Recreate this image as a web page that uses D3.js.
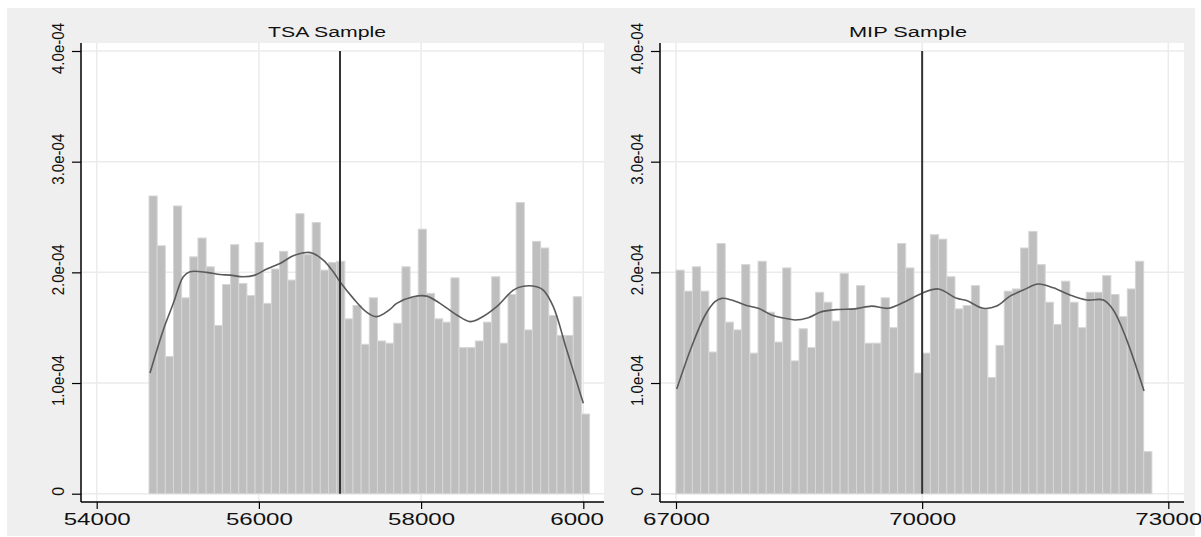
<!DOCTYPE html>
<html>
<head>
<meta charset="utf-8">
<script src="https://cdn.jsdelivr.net/npm/d3@7/dist/d3.min.js"></script>
<style>
body { margin: 0; background: #ffffff; }
text { font-family: "Liberation Sans", Arial, sans-serif; fill: #111; }
</style>
</head>
<body>
<div id="chart"></div>
<script>
// all densities are in units of 1e-04

// TSA sample histogram
var tsaBinStart = 54645;
var tsaBinWidth = 100.6;
var tsaDensity = [2.69, 2.24, 1.24, 2.60, 1.77, 2.14, 2.31, 2.05, 1.52, 1.89,
	2.25, 1.90, 1.79, 2.27, 1.72, 2.03, 2.19, 1.93, 2.53, 2.16,
	2.45, 2.02, 2.09, 2.10, 1.58, 1.70, 1.35, 1.77, 1.38, 1.36,
	1.54, 2.05, 1.78, 2.39, 1.81, 1.58, 1.55, 1.95, 1.32, 1.32,
	1.38, 1.55, 1.96, 1.36, 1.80, 2.63, 1.48, 2.28, 2.22, 1.61,
	1.43, 1.43, 1.78, 0.72];
// TSA kernel density
var tsaCurveX = [54657, 54821, 54945, 55068, 55150, 55356, 55520, 55644, 55808, 55952,
	56096, 56260, 56424, 56589, 56671, 56794, 56917, 57000, 57164, 57329,
	57453, 57616, 57699, 57904, 58069, 58233, 58439, 58603, 58726, 58932,
	59137, 59260, 59425, 59507, 59630, 59795, 60000];
var tsaCurveY = [1.09, 1.48, 1.72, 1.96, 2.005, 2.00, 1.98, 1.975, 1.96, 1.975,
	2.03, 2.08, 2.15, 2.18, 2.17, 2.11, 2.005, 1.915, 1.765, 1.64,
	1.60, 1.665, 1.72, 1.78, 1.785, 1.72, 1.615, 1.555, 1.585, 1.69,
	1.84, 1.875, 1.87, 1.84, 1.69, 1.30, 0.817];
var tsaCutoff = 57000;
var tsaTicks = [54000, 56000, 58000, 60000];

// MIP sample histogram
var mipBinStart = 67000;
var mipBinWidth = 100;
var mipDensity = [2.02, 1.83, 2.05, 1.83, 1.28, 2.26, 1.55, 1.48, 2.07, 1.27,
	2.10, 1.64, 1.37, 2.04, 1.20, 1.49, 1.32, 1.82, 1.73, 1.56,
	1.99, 1.67, 1.88, 1.36, 1.36, 1.77, 1.50, 2.26, 2.04, 1.09,
	1.27, 2.34, 2.30, 1.96, 1.67, 1.70, 1.88, 1.67, 1.05, 1.34,
	1.83, 1.85, 2.22, 2.37, 2.07, 1.73, 1.53, 1.92, 1.73, 1.50,
	1.82, 1.82, 1.97, 1.80, 1.60, 1.85, 2.10, 0.38];
// MIP kernel density
var mipCurveX = [67009, 67191, 67353, 67475, 67557, 67679, 67841, 68003, 68166, 68328,
	68450, 68612, 68776, 68978, 69182, 69385, 69587, 69791, 69995, 70197,
	70421, 70543, 70745, 70909, 71071, 71233, 71416, 71599, 71802, 72005,
	72208, 72330, 72493, 72704];
var mipCurveY = [0.945, 1.33, 1.61, 1.735, 1.765, 1.75, 1.705, 1.675, 1.615, 1.585,
	1.57, 1.59, 1.645, 1.665, 1.67, 1.695, 1.675, 1.735, 1.81, 1.85,
	1.765, 1.745, 1.675, 1.695, 1.785, 1.84, 1.895, 1.86, 1.795, 1.75,
	1.75, 1.66, 1.39, 0.928];
var mipCutoff = 70000;
var mipTicks = [67000, 70000, 73000];

var yTicks = [0, 1, 2, 3, 4];
var titles = ["TSA Sample", "MIP Sample"];

var W = 1201, H = 537;
var plotTop = 43, plotBottom = 502;

var svg = d3.select("#chart").append("svg")
	.attr("width", W)
	.attr("height", H);

// the y scale is shared by both panels
var y = d3.scaleLinear()
	.domain([0, 4])
	.range([493.7, 51]);

function fmtY(d) { return d === 0 ? "0" : d.toFixed(1) + "e-04"; }

var panels = [
	{ title: titles[0], bg: [7, 604], plot: [81, 604], dom: [54000, 60000], rng: [96.7, 583.3],
	  start: tsaBinStart, width: tsaBinWidth, dens: tsaDensity, cx: tsaCurveX, cy: tsaCurveY,
	  cut: tsaCutoff, ticks: tsaTicks, titleX: 327 },
	{ title: titles[1], bg: [604, 1195], plot: [660, 1184], dom: [67000, 73000], rng: [676, 1168.3],
	  start: mipBinStart, width: mipBinWidth, dens: mipDensity, cx: mipCurveX, cy: mipCurveY,
	  cut: mipCutoff, ticks: mipTicks, titleX: 908 }
];

panels.forEach(function (p) {
	var x = d3.scaleLinear().domain(p.dom).range(p.rng);
	var g = svg.append("g");

	// outer grey background and white plot region
	g.append("rect")
		.attr("x", p.bg[0]).attr("y", 8)
		.attr("width", p.bg[1] - p.bg[0]).attr("height", 528)
		.attr("fill", "#efefef");
	g.append("rect")
		.attr("x", p.plot[0]).attr("y", plotTop)
		.attr("width", p.plot[1] - p.plot[0]).attr("height", plotBottom - plotTop)
		.attr("fill", "#ffffff");

	// grid
	g.selectAll(".vgrid").data(p.ticks).enter().append("line")
		.attr("x1", x).attr("x2", x)
		.attr("y1", plotTop).attr("y2", plotBottom)
		.attr("stroke", "#ebebeb").attr("stroke-width", 1.5);
	g.selectAll(".hgrid").data(yTicks).enter().append("line")
		.attr("x1", p.plot[0]).attr("x2", p.plot[1])
		.attr("y1", y).attr("y2", y)
		.attr("stroke", "#ebebeb").attr("stroke-width", 1.5);

	// histogram bars
	g.selectAll(".bar").data(p.dens).enter().append("rect")
		.attr("x", function (d, i) { return x(p.start + i * p.width); })
		.attr("width", function (d, i) { return x(p.start + (i + 1) * p.width) - x(p.start + i * p.width); })
		.attr("y", function (d) { return y(d); })
		.attr("height", function (d) { return y(0) - y(d); })
		.attr("fill", "#bebebe")
		.attr("stroke", "#d6d6d6")
		.attr("stroke-width", 1);

	// kernel density
	var line = d3.line()
		.x(function (d) { return x(d[0]); })
		.y(function (d) { return y(d[1]); })
		.curve(d3.curveCatmullRom);
	g.append("path")
		.datum(d3.zip(p.cx, p.cy))
		.attr("d", line)
		.attr("fill", "none")
		.attr("stroke", "#5a5a5a")
		.attr("stroke-width", 1.6);

	// cutoff line
	g.append("line")
		.attr("x1", x(p.cut)).attr("x2", x(p.cut))
		.attr("y1", y(4)).attr("y2", y(0))
		.attr("stroke", "#333333").attr("stroke-width", 2);

	// x axis
	var xa = g.append("g")
		.attr("transform", "translate(0," + plotBottom + ")")
		.call(d3.axisBottom(x).tickValues(p.ticks).tickSize(7).tickFormat(d3.format("d")));
	xa.select(".domain").remove();
	xa.selectAll("line").attr("stroke", "#000").attr("stroke-width", 1.2);
	xa.selectAll("text")
		.attr("y", 23).attr("dy", null)
		.attr("font-size", 16.5)
		.attr("textLength", 67)
		.attr("lengthAdjust", "spacingAndGlyphs")
		.style("fill", "#111");
	g.append("line")
		.attr("x1", p.plot[0]).attr("x2", p.plot[1])
		.attr("y1", plotBottom).attr("y2", plotBottom)
		.attr("stroke", "#000").attr("stroke-width", 1.5);

	// y axis, labels rotated like Stata's default
	var ya = g.append("g")
		.attr("transform", "translate(" + p.plot[0] + ",0)")
		.call(d3.axisLeft(y).tickValues(yTicks).tickSize(9).tickFormat(fmtY));
	ya.select(".domain").remove();
	ya.selectAll("line").attr("stroke", "#000").attr("stroke-width", 1.2);
	ya.selectAll("text")
		.attr("x", null).attr("dy", null)
		.attr("text-anchor", "middle")
		.attr("transform", "translate(-17.5,-3) rotate(-90)")
		.attr("font-size", 16)
		.attr("textLength", function (d) { return d === 0 ? null : 51; })
		.attr("lengthAdjust", "spacingAndGlyphs")
		.style("fill", "#111");
	g.append("line")
		.attr("x1", p.plot[0]).attr("x2", p.plot[0])
		.attr("y1", plotTop).attr("y2", plotBottom)
		.attr("stroke", "#000").attr("stroke-width", 1.5);

	// title
	g.append("text")
		.attr("x", p.titleX).attr("y", 37)
		.attr("text-anchor", "middle")
		.attr("font-size", 15.5)
		.attr("textLength", 118)
		.attr("lengthAdjust", "spacingAndGlyphs")
		.text(p.title);
});
</script>
</body>
</html>
